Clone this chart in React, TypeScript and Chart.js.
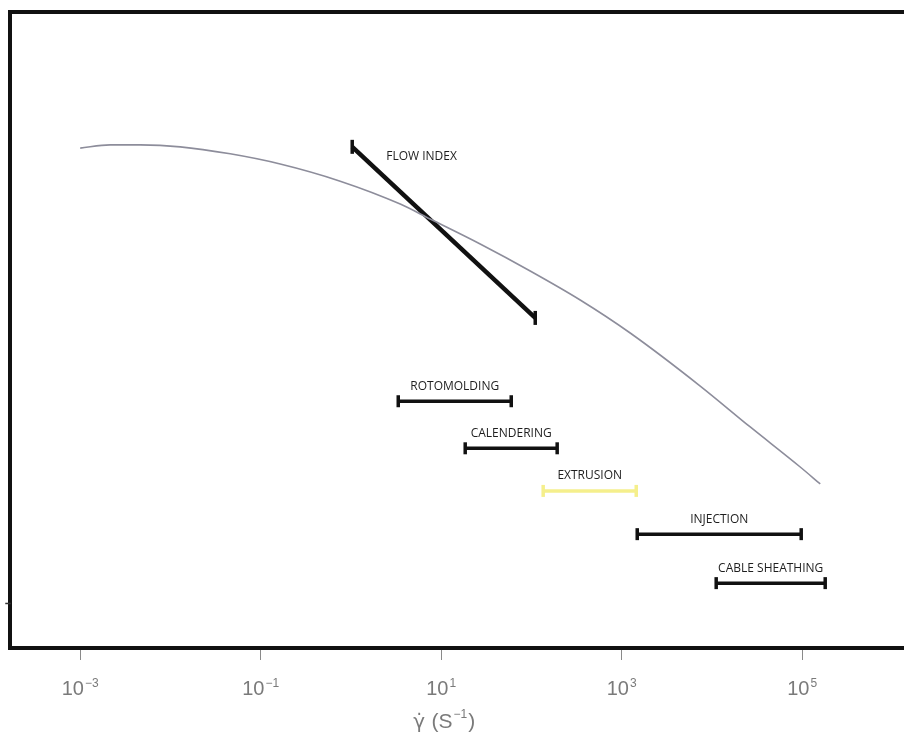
import React, { useEffect, useRef } from "react";
import { Chart, registerables } from "chart.js";

Chart.register(...registerables);

// Viscosity curve (x = log10 of shear rate, y = relative log viscosity)
const curveX = [-3.0, -2.668, -2.335, -1.892, -1.338, -0.784, -0.119, 0.546, 0.878, 1.432, 1.986, 2.54, 3.094, 3.87, 4.424, 4.978, 5.2];
const curveY = [78.6, 79.1, 79.1, 78.8, 77.7, 76.1, 73.4, 69.8, 67.45, 63.52, 59.28, 54.72, 49.53, 41.19, 34.75, 28.46, 25.79];

// Flow index segment
const flowLabel = "FLOW INDEX";
const flowX = [0.014, 2.042];
const flowY = [78.8, 51.9];

// Processing ranges
const rangeLabels = ["ROTOMOLDING", "CALENDERING", "EXTRUSION", "INJECTION", "CABLE SHEATHING"];
const rangeStart = [0.524, 1.266, 2.13, 3.172, 4.047];
const rangeEnd = [1.776, 2.285, 3.161, 4.989, 5.255];
const rangeLevel = [38.8, 31.4, 24.7, 17.9, 10.2];
const rangeColors = ["#111111", "#111111", "#f5ef8c", "#111111", "#111111"];

// Axis ticks (exponents of ten) and title parts
const xTickExps = [-3, -1, 1, 3, 5];
const tickBase = "10";
const titleSymbol = "\u03B3\u0307";
const titleUnit = "(S";
const titleUnitExp = "\u22121";
const titleClose = ")";

const FONT = "'Liberation Sans', Arial, sans-serif";
const GRAY = "#7a7a7a";

const framePlugin = {
  id: "frame",
  afterDraw(chart: any) {
    const { ctx, chartArea } = chart;
    const { left, top, bottom } = chartArea;
    const right = chart.width;
    ctx.save();
    ctx.strokeStyle = "#111";
    ctx.lineWidth = 4;
    ctx.lineCap = "square";
    ctx.beginPath();
    ctx.moveTo(right, top);
    ctx.lineTo(left, top);
    ctx.lineTo(left, bottom);
    ctx.lineTo(right, bottom);
    ctx.stroke();
    // small stray tick at left border
    ctx.lineWidth = 1.5;
    ctx.strokeStyle = "#333";
    ctx.beginPath();
    ctx.moveTo(left - 4, chart.scales.y.getPixelForValue(7));
    ctx.lineTo(left, chart.scales.y.getPixelForValue(7));
    ctx.stroke();
    ctx.restore();
  },
};

const axisTextPlugin = {
  id: "axisText",
  afterDraw(chart: any) {
    const { ctx, chartArea, scales } = chart;
    const xs = scales.x;
    const base = chartArea.bottom;
    ctx.save();
    ctx.fillStyle = GRAY;
    ctx.textBaseline = "alphabetic";
    ctx.textAlign = "left";
    const mainFont = `20px ${FONT}`;
    const supFont = `12px ${FONT}`;
    xTickExps.forEach((e) => {
      const px = xs.getPixelForValue(e);
      const expTxt = (e < 0 ? "\u2212" : "") + String(Math.abs(e));
      ctx.font = mainFont;
      const w1 = ctx.measureText(tickBase).width;
      ctx.font = supFont;
      const w2 = ctx.measureText(expTxt).width;
      const x0 = px - (w1 + w2 + 1) / 2;
      const y = base + 47;
      ctx.font = mainFont;
      ctx.fillText(tickBase, x0, y);
      ctx.font = supFont;
      ctx.fillText(expTxt, x0 + w1 + 1, y - 8);
    });
    // axis title
    const centerX = xs.getPixelForValue(1) + 3;
    const ty = base + 80;
    const symFont = `20px 'DejaVu Sans', sans-serif`;
    const tFont = `21px ${FONT}`;
    ctx.font = symFont;
    const ws = ctx.measureText(titleSymbol + " ").width;
    ctx.font = tFont;
    const wu = ctx.measureText(titleUnit).width;
    const wc = ctx.measureText(titleClose).width;
    ctx.font = supFont;
    const we = ctx.measureText(titleUnitExp).width;
    const total = ws + wu + we + wc + 2;
    let x = centerX - total / 2;
    ctx.font = symFont;
    ctx.fillText(titleSymbol, x, ty);
    x += ws;
    ctx.font = tFont;
    ctx.fillText(titleUnit, x, ty);
    x += wu + 1;
    ctx.font = supFont;
    ctx.fillText(titleUnitExp, x, ty - 10);
    x += we + 1;
    ctx.font = tFont;
    ctx.fillText(titleClose, x, ty);
    ctx.restore();
  },
};

const labelPlugin = {
  id: "rangeLabels",
  afterDatasetsDraw(chart: any) {
    const { ctx, scales } = chart;
    const xs = scales.x;
    const ys = scales.y;
    ctx.save();
    ctx.fillStyle = "#1e1e1e";
    ctx.font = "12px 'Open Sans', sans-serif";
    ctx.textBaseline = "middle";
    ctx.textAlign = "center";
    rangeLabels.forEach((lab, i) => {
      const cx = (xs.getPixelForValue(rangeStart[i]) + xs.getPixelForValue(rangeEnd[i])) / 2;
      const cy = ys.getPixelForValue(rangeLevel[i]) - 15;
      ctx.fillText(lab, cx, cy);
    });
    ctx.textAlign = "left";
    ctx.fillText(flowLabel, xs.getPixelForValue(flowX[0]) + 34, ys.getPixelForValue(flowY[0]) + 10);
    ctx.restore();
  },
};

export default function App() {
  const ref = useRef<HTMLCanvasElement | null>(null);
  useEffect(() => {
    if (!ref.current) return;
    const capStyle = {
      pointStyle: "line" as const,
      rotation: 90,
      pointRadius: 6,
      pointHoverRadius: 6,
    };
    const datasets: any[] = [
      {
        label: "curve",
        data: curveX.map((x, i) => ({ x, y: curveY[i] })),
        showLine: true,
        borderColor: "#8d8d9b",
        borderWidth: 1.6,
        pointRadius: 0,
        tension: 0.4,
        cubicInterpolationMode: "monotone",
      },
      {
        label: flowLabel,
        data: flowX.map((x, i) => ({ x, y: flowY[i] })),
        showLine: true,
        borderColor: "#111",
        borderWidth: 4.5,
        ...capStyle,
        pointRadius: 7,
        pointBorderColor: "#111",
        pointBorderWidth: 3.5,
      },
      ...rangeLabels.map((lab, i) => ({
        label: lab,
        data: [
          { x: rangeStart[i], y: rangeLevel[i] },
          { x: rangeEnd[i], y: rangeLevel[i] },
        ],
        showLine: true,
        borderColor: rangeColors[i],
        borderWidth: 3.5,
        ...capStyle,
        pointBorderColor: rangeColors[i],
        pointBorderWidth: 3.5,
      })),
    ];
    const chart = new Chart(ref.current, {
      type: "scatter",
      data: { datasets },
      options: {
        animation: false,
        responsive: false,
        maintainAspectRatio: false,
        layout: { autoPadding: false, padding: { left: 10, top: 12, right: 0, bottom: 77 } },
        plugins: { legend: { display: false }, tooltip: { enabled: false } },
        scales: {
          x: {
            type: "linear",
            min: -3.778,
            max: 6.128,
            afterBuildTicks: (scale: any) => {
              scale.ticks = xTickExps.map((v) => ({ value: v }));
            },
            grid: {
              display: true,
              drawOnChartArea: false,
              drawTicks: true,
              tickLength: 12,
              color: "#8a8a8a",
              lineWidth: 1,
            },
            border: { display: false },
            ticks: { display: false },
            title: { display: false },
          },
          y: { display: false, min: 0, max: 100 },
        },
      },
      plugins: [framePlugin, labelPlugin, axisTextPlugin],
    });
    return () => chart.destroy();
  }, []);
  return (
    <div style={{ position: "absolute", left: 0, top: 0, width: 904, height: 737, background: "#fff" }}>
      <canvas ref={ref} width={904} height={737} style={{ display: "block" }} />
    </div>
  );
}
